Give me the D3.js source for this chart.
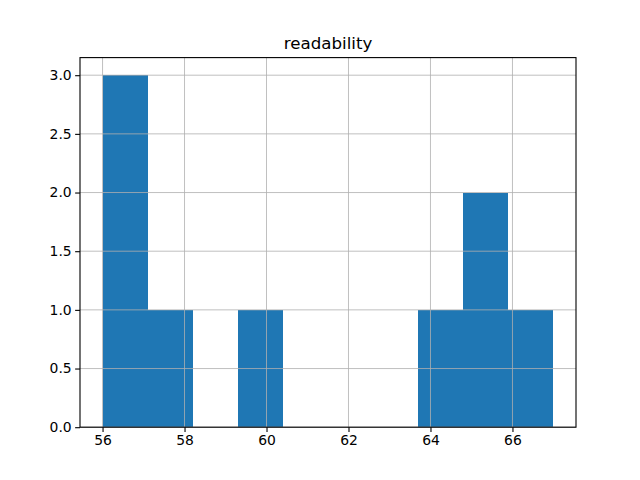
<!DOCTYPE html>
<html><head><meta charset="utf-8">
<script src="https://cdn.jsdelivr.net/npm/d3@7"></script>
<style>body{margin:0;background:#fff}svg{display:block}text{font-family:"DejaVu Sans",sans-serif}</style>
</head><body><svg id="c" width="640" height="480"></svg>
<script>
const binEdges = [56, 57.1, 58.2, 59.3, 60.4, 61.5, 62.6, 63.7, 64.8, 65.9, 67];
const counts = [3, 1, 0, 1, 0, 0, 0, 1, 2, 1];
const xTicks = [56, 58, 60, 62, 64, 66];
const yTicks = [0, 0.5, 1.0, 1.5, 2.0, 2.5, 3.0];
const title = "readability";

const svg = d3.select("#c");
const L = 80, R = 576, T = 57.6, B = 427.2;
const xmin = binEdges[0], xmax = binEdges[binEdges.length-1];
const pad = (xmax - xmin) * 0.05;
const x = d3.scaleLinear().domain([xmin - pad, xmax + pad]).range([L, R]);
const ymax = d3.max(counts) * 1.05;
const y = d3.scaleLinear().domain([0, ymax]).range([B, T]);

const bins = counts.map((c, i) => ({x0: binEdges[i], x1: binEdges[i+1], c}));
svg.append("g").attr("shape-rendering", "crispEdges").selectAll("rect").data(bins.filter(d => d.c > 0)).join("rect")
  .attr("x", d => Math.round(x(d.x0))).attr("width", d => Math.round(x(d.x1)) - Math.round(x(d.x0)))
  .attr("y", d => Math.round(y(d.c))).attr("height", d => Math.round(y(0)) - Math.round(y(d.c)))
  .attr("fill", "#1f77b4");

// grid
const g = svg.append("g").attr("stroke", "#b0b0b0").attr("stroke-width", 0.8);
xTicks.forEach(t => g.append("line").attr("x1", x(t)).attr("x2", x(t)).attr("y1", T).attr("y2", B));
yTicks.forEach(t => g.append("line").attr("x1", L).attr("x2", R).attr("y1", y(t)).attr("y2", y(t)));

// axes
const xAxis = d3.axisBottom(x).tickValues(xTicks).tickFormat(d3.format("d")).tickSizeInner(4.86).tickSizeOuter(0).tickPadding(3.5);
const yAxis = d3.axisLeft(y).tickValues(yTicks).tickFormat(d3.format(".1f")).tickSizeInner(4.86).tickSizeOuter(0).tickPadding(3.5);
const gx = svg.append("g").attr("transform", `translate(0,${B})`).call(xAxis);
const gy = svg.append("g").attr("transform", `translate(${L},0)`).call(yAxis);
[gx, gy].forEach(a => {
  a.select(".domain").remove();
  a.selectAll("line").attr("stroke", "#000").attr("stroke-width", 1.1);
  a.selectAll("text").attr("font-size", "13.9px").attr("fill", "#000").attr("font-family", "DejaVu Sans");
});
svg.append("rect").attr("x", L).attr("y", T).attr("width", R-L).attr("height", B-T)
  .attr("fill", "none").attr("stroke", "#000").attr("stroke-width", 1.1);

svg.append("text").attr("x", (L+R)/2).attr("y", 49).attr("text-anchor", "middle")
  .attr("font-size", "16.67px").attr("fill", "#000").text(title);
</script></body></html>
